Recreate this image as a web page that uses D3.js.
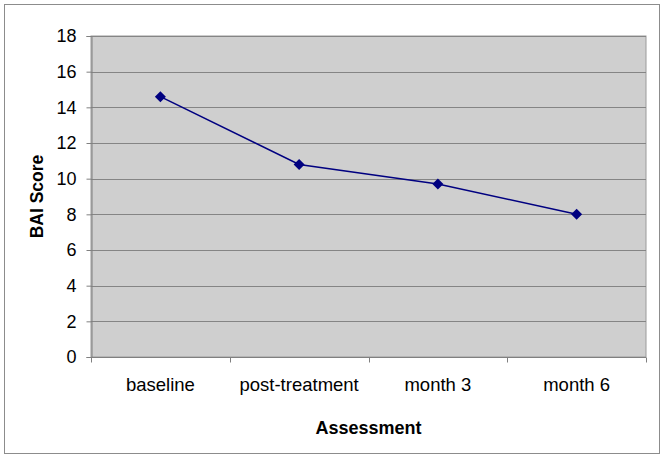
<!DOCTYPE html>
<html>
<head>
<meta charset="utf-8">
<script src="https://cdn.jsdelivr.net/npm/d3@7"></script>
<style>
  body { margin: 0; background: #fff; }
  text { font-family: Arial, "Liberation Sans", sans-serif; }
</style>
</head>
<body>
<div id="chart"></div>
<script>
// Data
const categories = ["baseline", "post-treatment", "month 3", "month 6"];
const baiScores = [14.6, 10.8, 9.7, 8.0];
const yTicks = [0, 2, 4, 6, 8, 10, 12, 14, 16, 18];

const width = 664, height = 458;
const margin = { top: 36, right: 18, bottom: 101, left: 91 };

const svg = d3.select("#chart").append("svg")
    .attr("width", width)
    .attr("height", height);

// outer frame
svg.append("rect")
    .attr("x", 4.5).attr("y", 4.5)
    .attr("width", 655).attr("height", 449)
    .attr("fill", "#fff")
    .attr("stroke", "#8c8c8c")
    .attr("stroke-width", 1);

const x = d3.scaleBand()
    .domain(categories)
    .range([margin.left, width - margin.right]);

const y = d3.scaleLinear()
    .domain([0, 18])
    .range([height - margin.bottom, margin.top]);

// plot area
svg.append("rect")
    .attr("x", margin.left)
    .attr("y", margin.top)
    .attr("width", width - margin.right - margin.left)
    .attr("height", height - margin.bottom - margin.top)
    .attr("fill", "#cfcfcf")
    .attr("stroke", "#9a9a9a")
    .attr("stroke-width", 1);

// gridlines
svg.append("g")
    .selectAll("line")
    .data(yTicks.filter(d => d > 0))
    .enter().append("line")
    .attr("x1", margin.left)
    .attr("x2", width - margin.right)
    .attr("y1", d => Math.round(y(d)) + 0.5)
    .attr("y2", d => Math.round(y(d)) + 0.5)
    .attr("stroke", "#858585")
    .attr("stroke-width", 1);

// y axis
const yAxis = svg.append("g")
    .attr("transform", `translate(${margin.left + 0.5},0)`)
    .call(d3.axisLeft(y).tickValues(yTicks).tickSize(5).tickPadding(10).tickFormat(d3.format("d")));
yAxis.select(".domain").attr("stroke", "#808080");
yAxis.selectAll(".tick line").attr("stroke", "#808080");
yAxis.selectAll(".tick text")
    .attr("font-size", "18px")
    .attr("fill", "#000")
    .style("font-family", "Arial, 'Liberation Sans', sans-serif");

// x axis (ticks between categories)
const xAxisG = svg.append("g")
    .attr("transform", `translate(0,${Math.round(y(0)) + 0.5})`);
xAxisG.append("line")
    .attr("x1", margin.left).attr("x2", width - margin.right)
    .attr("stroke", "#808080");
xAxisG.selectAll(".sep")
    .data(categories.concat(["_end"]))
    .enter().append("line")
    .attr("x1", (d, i) => Math.round(margin.left + i * x.bandwidth()) + 0.5)
    .attr("x2", (d, i) => Math.round(margin.left + i * x.bandwidth()) + 0.5)
    .attr("y1", 0).attr("y2", 5)
    .attr("stroke", "#808080");
xAxisG.selectAll(".lbl")
    .data(categories)
    .enter().append("text")
    .attr("x", d => x(d) + x.bandwidth() / 2)
    .attr("y", 33)
    .attr("text-anchor", "middle")
    .attr("font-size", "18.5px")
    .attr("fill", "#000")
    .text(d => d);

// axis titles
svg.append("text")
    .attr("transform", `translate(43,${(margin.top + height - margin.bottom) / 2}) rotate(-90)`)
    .attr("text-anchor", "middle")
    .attr("font-size", "17.5px")
    .attr("font-weight", "bold")
    .text("BAI Score");

svg.append("text")
    .attr("x", (margin.left + width - margin.right) / 2)
    .attr("y", 434)
    .attr("text-anchor", "middle")
    .attr("font-size", "18px")
    .attr("font-weight", "bold")
    .text("Assessment");

// line + markers
const points = categories.map((c, i) => ({ cat: c, value: baiScores[i] }));
const line = d3.line()
    .x(d => x(d.cat) + x.bandwidth() / 2)
    .y(d => y(d.value));

svg.append("path")
    .datum(points)
    .attr("d", line)
    .attr("fill", "none")
    .attr("stroke", "#000080")
    .attr("stroke-width", 1.5);

svg.selectAll(".marker")
    .data(points)
    .enter().append("path")
    .attr("transform", d => `translate(${x(d.cat) + x.bandwidth() / 2},${y(d.value)})`)
    .attr("d", "M0,-5.5L5.5,0L0,5.5L-5.5,0Z")
    .attr("fill", "#000080");
</script>
</body>
</html>
